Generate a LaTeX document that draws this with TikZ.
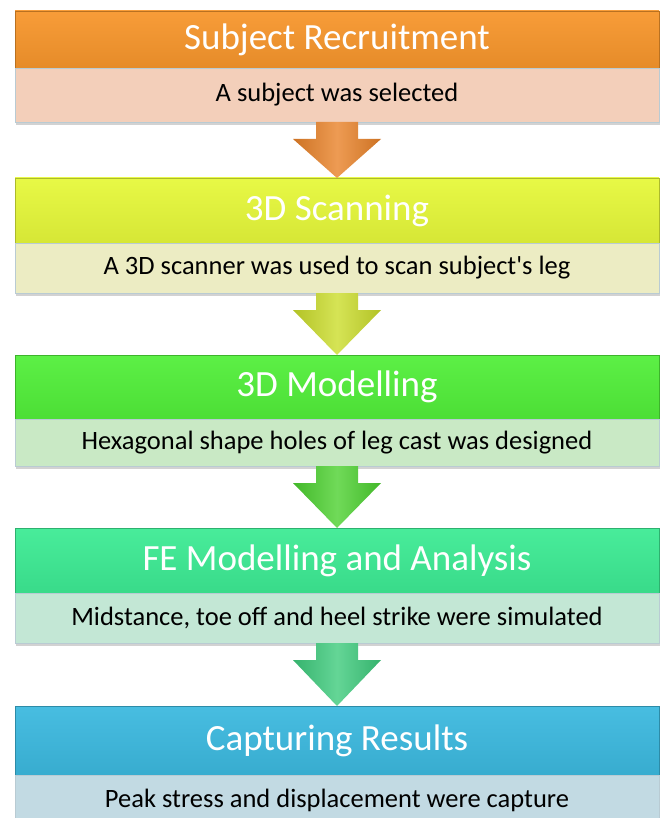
\documentclass[tikz,border=0pt]{standalone}
\usepackage{fontspec}
\setmainfont{Carlito}
\usetikzlibrary{calc,shadows}

% stage colours: header fill, detail fill, arrow fill
\definecolor{hdA}{HTML}{F7962C}\definecolor{sbA}{HTML}{F3CFBA}\definecolor{arA}{HTML}{E98228}
\definecolor{hdB}{HTML}{E6F83A}\definecolor{sbB}{HTML}{ECECC3}\definecolor{arB}{HTML}{CBDD2B}
\definecolor{hdC}{HTML}{52EF3A}\definecolor{sbC}{HTML}{C9E9C5}\definecolor{arC}{HTML}{4CD12F}
\definecolor{hdD}{HTML}{3DEB94}\definecolor{sbD}{HTML}{C3E7D5}\definecolor{arD}{HTML}{3DCB7C}
\definecolor{hdE}{HTML}{3CB9DF}\definecolor{sbE}{HTML}{C2DAE3}
\definecolor{subedge}{HTML}{B9CBD3}

\tikzset{
  x=1pt, y=1pt,
  header/.style={minimum width=644pt, inner sep=0pt, outer sep=0pt,
    font=\fontsize{37}{40}\selectfont, text=white,
    top color=#1!94!white, bottom color=#1!93!black,
    draw=#1!75!black, line width=0.6pt,
    drop shadow={shadow xshift=1pt, shadow yshift=-3pt, opacity=.35}},
  detail/.style={minimum width=644pt, inner sep=0pt, outer sep=0pt,
    font=\fontsize{26.5}{30}\selectfont, text=black,
    fill=#1, draw=subedge, line width=0.8pt,
    drop shadow={shadow xshift=1pt, shadow yshift=-3pt, opacity=.35}},
  flow/.style={left color=#1!88!black, right color=#1!88!black, middle color=#1!80!white}
}

% block arrow from the bottom of one stage to the top of the next
\newcommand\stagearrow[3]{%
  \path[flow=#3]
    ($(#1.south)+(-21,0)$) -- ($(#1.south)+(21,0)$) --
    ($(#1.south)+(21,-17)$) -- ($(#1.south)+(44,-17)$) --
    (#2.north) --
    ($(#1.south)+(-44,-17)$) -- ($(#1.south)+(-21,-17)$) -- cycle;
}

\begin{document}
\begin{tikzpicture}
\useasboundingbox (0,0) rectangle (664,-818);
\clip (0,0) rectangle (664,-818);
\fill[white] (0,0) rectangle (664,-818);

\node[header=hdA, minimum height=57pt] (h1) at (337,-39.5) {Subject Recruitment};
\node[detail=sbA, minimum height=54pt] (s1) at (337,-95) {\raisebox{-2pt}{A subject was selected}};

\node[header=hdB, minimum height=65pt] (h2) at (337,-210.5) {3D Scanning};
\node[detail=sbB, minimum height=50pt] (s2) at (337,-268) {A 3D scanner was used to scan subject\textquotesingle s leg};

\node[header=hdC, minimum height=64pt] (h3) at (337,-387) {3D Modelling};
\node[detail=sbC, minimum height=47pt] (s3) at (337,-442.5) {Hexagonal shape holes of leg cast was designed};

\node[header=hdD, minimum height=65pt] (h4) at (337,-560.5) {FE Modelling and Analysis};
\node[detail=sbD, minimum height=50pt] (s4) at (337,-618) {Midstance, toe off and heel strike were simulated};

\node[header=hdE, minimum height=69pt] (h5) at (337,-740.5) {Capturing Results};
\node[detail=sbE, minimum height=50pt] (s5) at (337,-800) {Peak stress and displacement were capture};

\stagearrow{s1}{h2}{arA}
\stagearrow{s2}{h3}{arB}
\stagearrow{s3}{h4}{arC}
\stagearrow{s4}{h5}{arD}
\end{tikzpicture}
\end{document}
